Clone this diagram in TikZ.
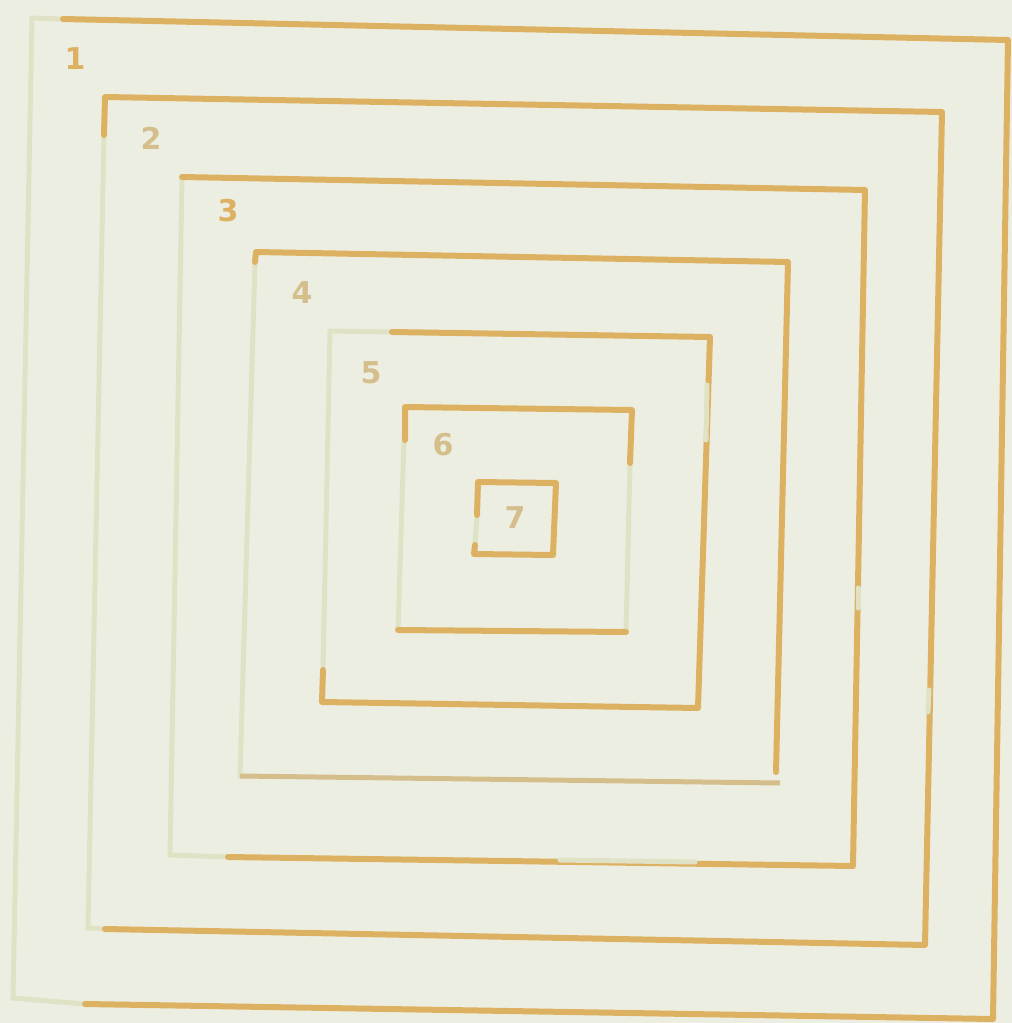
\documentclass[tikz,border=0pt]{standalone}
\usepackage{fontspec}
\setsansfont{DejaVu Sans}
\definecolor{paper}{RGB}{237,238,226}
\definecolor{gold}{RGB}{221,177,98}
\definecolor{pale}{RGB}{224,226,198}
\definecolor{dullgold}{RGB}{212,190,140}
\tikzset{
  solidline/.style={draw=gold,line width=6pt,line join=round,line cap=round},
  fadedline/.style={draw=pale,line width=5pt,line cap=round},
  numlabel/.style={font=\sffamily\bfseries\fontsize{30}{32}\selectfont,text=gold},
  dimlabel/.style={font=\sffamily\bfseries\fontsize{30}{32}\selectfont,text=dullgold}
}

\begin{document}

\begin{tikzpicture}[x=1pt,y=-1pt]
\useasboundingbox (0,0) rectangle (1012,1023);
\fill[paper] (0,0) rectangle (1012,1023);
% square 1
\coordinate (s1tl) at (32,18);
\coordinate (s1a) at (63,19);
\coordinate (s1tr) at (1008,40);
\coordinate (s1br) at (993,1019);
\coordinate (s1b) at (85,1004);
\coordinate (s1bl) at (13,998);
\draw[fadedline] (s1tl) -- (s1bl) -- (s1b);
\draw[fadedline] (s1tl) -- (s1a);
\draw[solidline] (s1a) -- (s1tr) -- (s1br) -- (s1b);
% square 2
\coordinate (s2tl) at (105,97);
\coordinate (s2tr) at (942,112);
\coordinate (s2br) at (925,945);
\coordinate (s2b) at (105,929);
\coordinate (s2bl) at (88,928);
\coordinate (s2l) at (104,135);
\draw[fadedline] (s2l) -- (s2bl) -- (s2b);
\draw[solidline] (s2l) -- (s2tl) -- (s2tr) -- (s2br) -- (s2b);
\draw[fadedline] (929,690) -- (928,712);
% square 3
\coordinate (s3tl) at (182,177);
\coordinate (s3tr) at (865,190);
\coordinate (s3br) at (853,866);
\coordinate (s3b) at (228,857);
\coordinate (s3bl) at (170,855);
\draw[fadedline] (s3tl) -- (s3bl) -- (s3b);
\draw[solidline] (s3tl) -- (s3tr) -- (s3br) -- (s3b);
\draw[fadedline] (858,588) -- (858,608);
\draw[fadedline] (560,860) -- (695,862);
% square 4
\coordinate (s4tl) at (256,252);
\coordinate (s4tr) at (788,262);
\coordinate (s4br) at (776,772);
\coordinate (s4bl) at (240,776);
\coordinate (s4l) at (255,262);
\draw[fadedline] (s4l) -- (s4bl);
\draw[solidline] (s4l) -- (s4tl) -- (s4tr) -- (s4br);
\draw[draw=dullgold,line width=5pt] (s4bl) -- (780,783);
% square 5
\coordinate (s5tl) at (330,331);
\coordinate (s5a) at (392,332);
\coordinate (s5tr) at (710,337);
\coordinate (s5br) at (698,708);
\coordinate (s5bl) at (322,702);
\coordinate (s5l) at (323,670);
\draw[fadedline] (s5tl) -- (s5l);
\draw[fadedline] (s5tl) -- (s5a);
\draw[solidline] (s5a) -- (s5tr) -- (s5br) -- (s5bl) -- (s5l);
\draw[fadedline] (707,385) -- (706,440);
% square 6
\coordinate (s6tl) at (405,407);
\coordinate (s6tr) at (632,410);
\coordinate (s6r) at (630,463);
\coordinate (s6br) at (626,632);
\coordinate (s6bl) at (398,630);
\draw[fadedline] (s6r) -- (s6br);
\draw[fadedline] (s6tl) -- (s6bl);
\draw[solidline] (405,440) -- (s6tl) -- (s6tr) -- (s6r);
\draw[solidline] (s6bl) -- (s6br);
% square 7
\coordinate (s7tl) at (478,482);
\coordinate (s7tr) at (556,483);
\coordinate (s7br) at (553,555);
\coordinate (s7bl) at (474,554);
\draw[fadedline] (477,515) -- (475,545);
\draw[solidline] (477,515) -- (s7tl) -- (s7tr) -- (s7br) -- (s7bl) -- (475,545);
% labels
\node[numlabel] (n1) at (75,59) {1};
\node[dimlabel] (n2) at (151,138) {2};
\node[numlabel] (n3) at (228,211) {3};
\node[dimlabel] (n4) at (302,293) {4};
\node[dimlabel] (n5) at (371,373) {5};
\node[dimlabel] (n6) at (443,445) {6};
\node[dimlabel] (n7) at (515,518) {7};
\end{tikzpicture}

\end{document}
